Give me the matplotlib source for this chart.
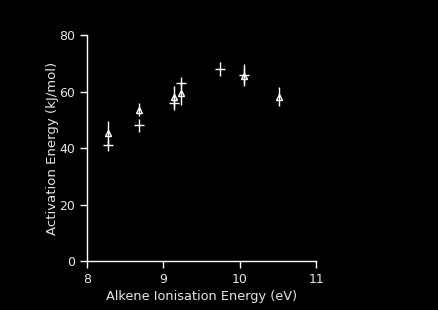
import matplotlib
matplotlib.use('Agg')
import matplotlib.pyplot as plt

# triangle series
tri_x = [8.28, 8.685, 9.144, 9.235, 10.05, 10.515]
tri_y = [45.4, 53.5, 58.2, 59.4, 65.5, 58.2]
tri_err = [4.2, 2.3, 3.9, 4.1, 3.0, 3.5]

# plus series
plus_x = [8.28, 8.685, 9.144, 9.235, 9.742, 10.05]
plus_y = [41.1, 48.1, 55.8, 62.9, 68.0, 65.8]
plus_err = [2.2, 2.3, 2.3, 2.1, 2.6, 4.0]

x_ticks = [8, 9, 10, 11]
y_ticks = [0, 20, 40, 60, 80]

fig = plt.figure(figsize=(4.39, 3.10), dpi=100, facecolor='black')
ax = fig.add_axes([0.198, 0.158, 0.522, 0.729], facecolor='black')

ax.errorbar(tri_x, tri_y, yerr=tri_err, fmt='^', color='white', ecolor='white',
            markersize=4, markerfacecolor='none', markeredgewidth=1.0,
            elinewidth=1.0, capsize=0)
ax.errorbar(plus_x, plus_y, yerr=plus_err, fmt='_', color='white', ecolor='white',
            markersize=7, markeredgewidth=1.0, elinewidth=1.0, capsize=0)

ax.set_xlim(8, 11)
ax.set_ylim(0, 80)
ax.set_xticks(x_ticks)
ax.set_yticks(y_ticks)

for s in ['top', 'right']:
    ax.spines[s].set_visible(False)
for s in ['left', 'bottom']:
    ax.spines[s].set_color('white')
    ax.spines[s].set_linewidth(1.0)

ax.tick_params(colors='white', labelcolor='#e6e6e6', direction='out',
               length=5, width=1.0, labelsize=9)
ax.set_xlabel('Alkene Ionisation Energy (eV)', color='#e6e6e6', fontsize=9.3, labelpad=3)
ax.set_ylabel('Activation Energy (kJ/mol)', color='#e6e6e6', fontsize=9.5, labelpad=0)

fig.savefig('out.png', dpi=100, facecolor='black')
